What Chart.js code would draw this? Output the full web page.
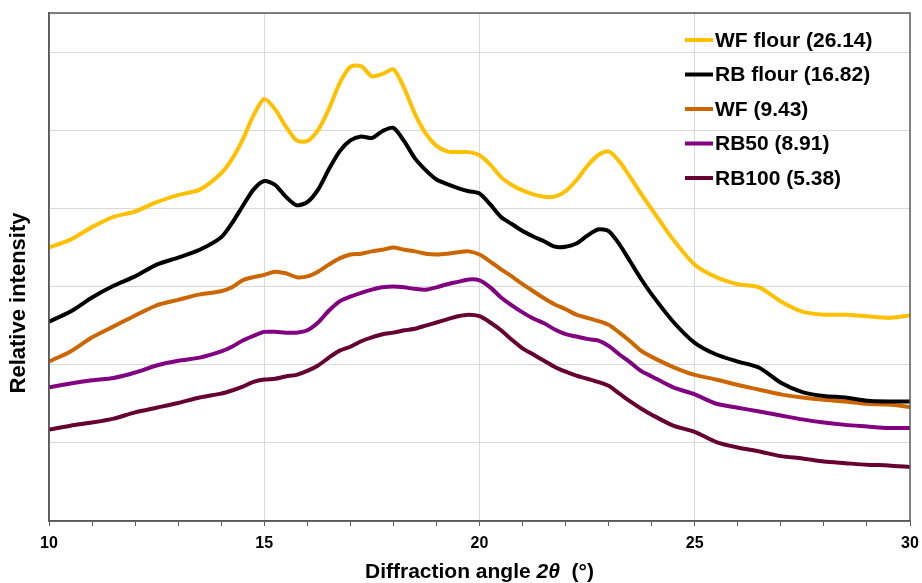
<!DOCTYPE html>
<html>
<head>
<meta charset="utf-8">
<script src="https://cdn.jsdelivr.net/npm/chart.js@4.4.1/dist/chart.umd.min.js"></script>
<style>
  body { margin: 0; background: #fff; }
  #wrap { width: 922px; height: 583px; position: relative; }
</style>
</head>
<body>
<div id="wrap"><canvas id="xrd"></canvas></div>
<script>
// diffraction angle 2theta (deg)
const angles = [10, 10.5, 11, 11.5, 12, 12.5, 13, 13.5, 14,
  14.25, 14.5, 14.75, 15, 15.25, 15.5, 15.75, 16, 16.25, 16.5,
  16.75, 17, 17.25, 17.5, 17.75, 18, 18.25, 18.5, 18.75, 19,
  19.25, 19.5, 19.75, 20, 20.25, 20.5, 20.75, 21, 21.25, 21.5,
  21.75, 22, 22.25, 22.5, 22.75, 23, 23.25, 23.5, 23.75, 24,
  24.5, 25, 25.5, 26, 26.5, 27, 27.5, 28, 28.5, 29, 29.5, 30];

// relative intensity (a.u., stacked curves as plotted)
const wfFlour = [350, 360, 376, 389, 396, 408, 417, 424, 445,
  463, 488, 519, 540, 527, 505, 487, 486, 500, 527,
  560, 581, 582, 569, 572, 578, 554, 521, 496, 480,
  473, 472, 472, 468, 456, 440, 430, 423, 418, 415,
  415, 422, 436, 454, 468, 473, 460, 440, 419, 399,
  360, 328, 312, 303, 299, 281, 268, 264, 264, 262, 260, 263];
const rbFlour = [255, 268, 286, 301, 313, 328, 337, 347, 363,
  381, 403, 424, 435, 430, 415, 404, 408, 424, 450,
  473, 487, 492, 490, 499, 503, 486, 464, 449, 437,
  431, 426, 422, 419, 405, 389, 380, 371, 364, 358,
  351, 351, 355, 365, 373, 371, 354, 332, 310, 290,
  255, 228, 213, 204, 196, 177, 165, 160, 158, 154, 153, 153];
const wf = [204, 217, 235, 249, 263, 276, 283, 290, 294,
  299, 308, 312, 315, 319, 317, 312, 313, 319, 328,
  336, 341, 342, 345, 347, 350, 347, 345, 342, 341,
  342, 344, 345, 341, 332, 322, 313, 303, 294, 285,
  277, 271, 264, 260, 256, 251, 241, 230, 218, 210,
  197, 187, 181, 174, 168, 162, 158, 155, 153, 150, 149, 146];
const rb50 = [171, 176, 180, 183, 190, 199, 205, 209, 217,
  223, 231, 237, 242, 242, 241, 241, 244, 254, 269,
  281, 287, 292, 296, 299, 300, 299, 297, 296, 299,
  303, 306, 309, 308, 299, 286, 276, 267, 259, 253,
  245, 239, 236, 233, 231, 224, 213, 203, 192, 185,
  171, 162, 150, 145, 140, 135, 130, 126, 123, 121, 119, 119];
const rb100 = [117, 122, 126, 131, 139, 145, 151, 158, 163,
  167, 172, 178, 181, 182, 185, 187, 192, 199, 209,
  218, 223, 230, 235, 239, 241, 244, 246, 250, 254,
  258, 262, 264, 262, 254, 244, 232, 221, 213, 205,
  197, 191, 186, 182, 178, 173, 163, 153, 144, 136,
  122, 114, 101, 94, 89, 83, 80, 76, 74, 72, 71, 69];

const seriesNames = ["WF flour (26.14)", "RB flour (16.82)", "WF (9.43)", "RB50 (8.91)", "RB100 (5.38)"];
const seriesColors = ["#ffc000", "#000000", "#cc6600", "#800080", "#660033"];
const seriesValues = [wfFlour, rbFlour, wf, rb50, rb100];

const FONT = "'Liberation Sans', Arial, sans-serif";

// box round the plot, legend and axis titles
const extras = {
  id: "extras",
  afterDatasetsDraw(chart) {
    const ctx = chart.ctx;
    const a = chart.chartArea;
    ctx.save();
    ctx.strokeStyle = "#595959";
    ctx.lineWidth = 1.5;
    ctx.strokeRect(a.left, a.top, a.right - a.left, a.bottom - a.top);

    // legend
    ctx.font = "bold 21px " + FONT;
    ctx.textBaseline = "middle";
    ctx.textAlign = "left";
    chart.data.datasets.forEach((ds, i) => {
      const y = 40 + i * 34.5;
      ctx.strokeStyle = ds.borderColor;
      ctx.lineWidth = 4;
      ctx.beginPath();
      ctx.moveTo(685, y);
      ctx.lineTo(713, y);
      ctx.stroke();
      ctx.fillStyle = "#000";
      ctx.fillText(ds.label, 715, y + 1);
    });

    // x title with italic 2θ
    const parts = [["Diffraction angle ", "bold "], ["2θ", "italic bold "], ["  (°)", "bold "]];
    let total = 0;
    parts.forEach(p => { ctx.font = p[1] + "21px " + FONT; total += ctx.measureText(p[0]).width; });
    let x = (a.left + a.right) / 2 - total / 2;
    parts.forEach(p => {
      ctx.font = p[1] + "21px " + FONT;
      ctx.fillText(p[0], x, 572);
      x += ctx.measureText(p[0]).width;
    });

    // y title
    ctx.translate(19, 303);
    ctx.rotate(-Math.PI / 2);
    ctx.textAlign = "center";
    ctx.font = "bold 22px " + FONT;
    ctx.fillText("Relative intensity", 0, 0);
    ctx.restore();
  }
};

const xrd = document.getElementById("xrd").getContext("2d");

let xrdChart = new Chart(xrd, {
  type: "line",
  data: {
    datasets: seriesValues.map((vals, i) => ({
      label: seriesNames[i],
      data: vals.map((v, j) => ({ x: angles[j], y: v })),
      borderColor: seriesColors[i],
      backgroundColor: seriesColors[i],
      borderWidth: 4,
      pointRadius: 0,
      tension: 0.25,
    })),
  },
  options: {
    responsive: true,
    maintainAspectRatio: false,
    animation: false,
    layout: {
      padding: { left: 49, right: 12, top: 13, bottom: 0 },
    },
    plugins: {
      legend: { display: false },
      tooltip: { enabled: false },
    },
    scales: {
      x: {
        type: "linear",
        min: 10,
        max: 30,
        afterFit: (s) => { s.height = 62; s.paddingLeft = 0; s.paddingRight = 0; },
        border: { display: true, color: "#595959", width: 1.5 },
        grid: {
          color: (c) => (c.tick && c.tick.value % 5 === 0 && c.tick.value > 10 && c.tick.value < 30) ? "#d9d9d9" : "rgba(0,0,0,0)",
          tickColor: "#595959",
          tickLength: 5,
          lineWidth: 1,
        },
        ticks: {
          stepSize: 1,
          autoSkip: false,
          maxRotation: 0,
          padding: 8,
          color: "#000",
          font: { family: FONT, size: 16, weight: "bold" },
          callback: function (value) {
            return value % 5 === 0 ? value : "";
          },
        },
      },
      y: {
        min: 0,
        max: 650,
        afterFit: (s) => { s.width = 0; },
        border: { display: true, color: "#595959", width: 1.5 },
        grid: { color: "#d9d9d9", drawTicks: false, lineWidth: 1 },
        ticks: { display: false, stepSize: 100 },
      },
    },
  },
  plugins: [extras],
});
</script>
</body>
</html>
